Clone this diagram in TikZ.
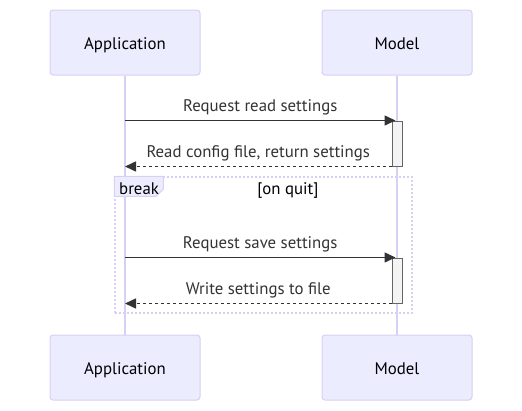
\documentclass[tikz,border=0pt]{standalone}
\usepackage{fontspec}
\setmainfont{PT Sans}
\usetikzlibrary{arrows.meta,positioning}
\definecolor{actbg}{HTML}{ECECFF}
\definecolor{actln}{HTML}{D9CEF3}
\definecolor{ink}{HTML}{333333}
\definecolor{actfill}{HTML}{F4F4F4}
\definecolor{actedge}{HTML}{666666}
\tikzset{
  actor/.style={draw=actln,fill=actbg,rounded corners=3pt,line width=1pt,minimum width=150pt,minimum height=65pt,font=\fontsize{16.8}{20}\selectfont,text=black,text height=14pt,text depth=1pt},
  life/.style={draw=actln,line width=1.5pt},
  bar/.style={draw=actedge,fill=actfill,line width=1pt,minimum width=10pt,minimum height=45pt,inner sep=0pt},
  msg/.style={-{Triangle[length=11pt,width=10pt]},line width=1.5pt,color=ink},
  ret/.style={msg,dash pattern=on 3pt off 3pt},
  txt/.style={font=\fontsize{16.8}{20}\selectfont,text=ink,inner sep=0pt,text height=12pt,text depth=3pt},
  frame/.style={draw=actln,line width=1.5pt,dash pattern=on 2pt off 2pt}}
\begin{document}
\begin{tikzpicture}[x=1pt,y=-1pt]
\useasboundingbox (0,0) rectangle (522,410);
\node[actor] (appTop) at (125,42.5) {Application};
\node[actor] (modelTop) at (397,42.5) {Model};
\node[actor,below=259pt of appTop] (appBot) {Application};
\node[actor,below=259pt of modelTop] (modelBot) {Model};
\draw[life] (appTop) -- (appBot);
\draw[life] (modelTop) -- (modelBot);
% break block
\node[frame,minimum width=297pt,minimum height=136pt,inner sep=0pt] (brk) at (263.5,245) {};
\draw[draw=actln,fill=actbg,line width=1pt] (brk.north west) -- ++(49,0) -- ++(0,13) -- ++(-7,7) -- ++(-42,0) -- cycle;
\node[txt,text=black,anchor=west] (brkLbl) at (119,190) {break};
\node[txt,text=black] (brkCond) at (288,190) {[on quit]};
% activations
\node[bar] (actRead) at (397,143.5) {};
\node[bar] (actSave) at (397,280.5) {};
\draw[msg] (actRead.north west -| appTop) -- node[txt,midway,yshift=14pt]{Request read settings} ([xshift=4pt]actRead.north west);
\draw[ret] (actRead.south west) -- node[txt,midway,yshift=14pt]{Read config file, return settings} (actRead.south west -| appTop);
\draw[msg] (actSave.north west -| appTop) -- node[txt,midway,yshift=14pt]{Request save settings} ([xshift=4pt]actSave.north west);
\draw[ret] (actSave.south west) -- node[txt,midway,yshift=14pt]{Write settings to file} (actSave.south west -| appTop);
\end{tikzpicture}
\end{document}
